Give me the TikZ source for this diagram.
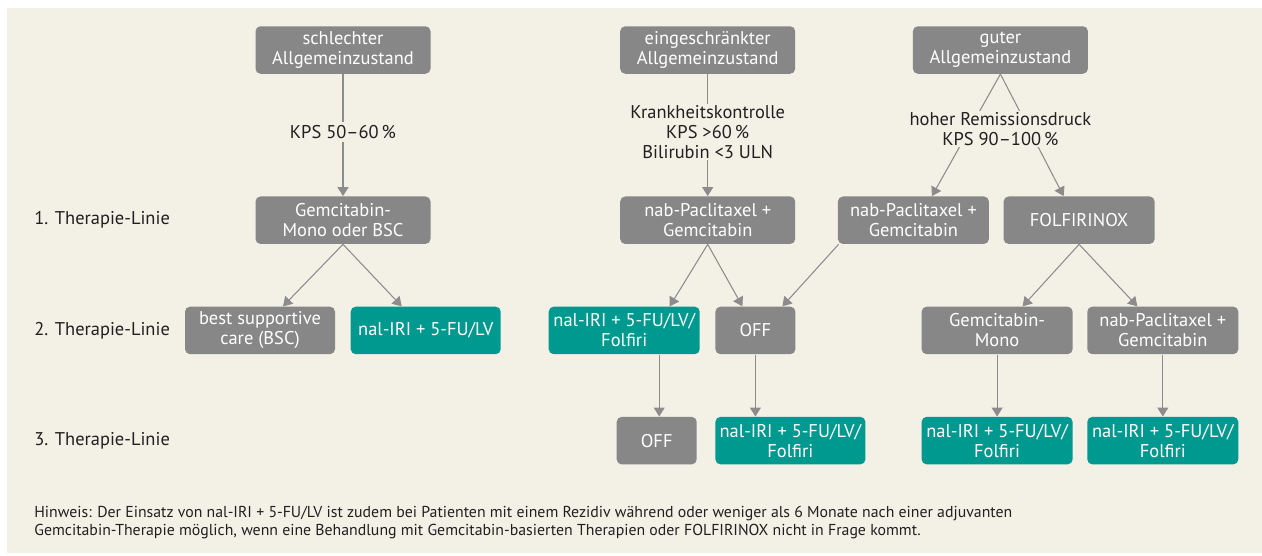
\documentclass[tikz,border=0pt]{standalone}
\usepackage{fontspec}
\setmainfont{PT Sans}
\usepackage{tikz}
\usetikzlibrary{arrows.meta}
\usetikzlibrary{positioning}
\usepackage{xcolor}
\definecolor{bgbeige}{HTML}{F3F0E6}
\definecolor{boxgray}{HTML}{878787}
\definecolor{boxteal}{HTML}{00998F}
\definecolor{linegray}{HTML}{8C8C8C}
\definecolor{txtdark}{HTML}{231F20}

\begin{document}
\begin{tikzpicture}
		\tikzstyle{block} = [rectangle, fill=boxgray, text=white, align=center, 
		rounded corners=0.1cm, minimum width=3.5cm, minimum height=0.95cm, inner sep=0pt, font=\fontsize{10.5}{11.4}\selectfont]
		\tikzstyle{tblock} = [block, fill=boxteal]
		\tikzstyle{noblock} = [rectangle, fill=bgbeige, text=txtdark, align=center, 
		inner sep=0.06cm, font=\fontsize{10.5}{11.4}\selectfont]
		\tikzstyle{rowlabel} = [anchor=west, text=txtdark, inner sep=0pt, font=\fontsize{10.5}{11.4}\selectfont]
		\tikzstyle{line} = [draw=linegray, line width=0.6pt, -{Triangle[length=0.18cm, width=0.22cm]}]

		% frame
		\useasboundingbox (0,0) rectangle (25.24,-11.1);
		\fill [bgbeige] (0.14,-0.16) rectangle (25.24,-11.06);
		\coordinate (lft) at (0.68,0);

		% Allgemeinzustand
		\node [block] (s1) at (6.86,-1.0) {schlechter\\Allgemeinzustand};
		\node [block, right=3.78cm of s1] (s2) {eingeschränkter\\Allgemeinzustand};
		\node [block, right=2.34cm of s2] (s3) {guter\\Allgemeinzustand};

		% 1. Linie
		\node [block, below=2.44cm of s1] (t1a) {Gemcitabin-\\Mono oder BSC};
		\node [block, below=2.44cm of s2] (t1b) {nab-Paclitaxel +\\Gemcitabin};
		\node [block, right=0.84cm of t1b, minimum width=3.02cm] (t1c) {nab-Paclitaxel +\\Gemcitabin};
		\node [block, right=0.28cm of t1c, minimum width=3.02cm] (t1d) {FOLFIRINOX};

		% 2. Linie
		\node [block, below=1.24cm of t1a, xshift=-1.66cm, minimum width=3.0cm] (t2a) {best supportive\\care (BSC)};
		\node [tblock, right=0.3cm of t2a, minimum width=3.0cm] (t2b) {nal-IRI + 5-FU/LV};
		\node [tblock, below=1.24cm of t1b, xshift=-1.67cm, minimum width=3.02cm] (t2c) {nal-IRI + 5-FU/LV/\\Folfiri};
		\node [block, right=0.3cm of t2c, minimum width=1.6cm] (t2d) {OFF};
		\node [block, below=1.24cm of t1d, xshift=-1.64cm, minimum width=3.02cm] (t2e) {Gemcitabin-\\Mono};
		\node [block, right=0.28cm of t2e, minimum width=3.02cm] (t2f) {nab-Paclitaxel +\\Gemcitabin};

		% 3. Linie
		\node [block, below=1.24cm of t2c, xshift=0.65cm, minimum width=1.6cm] (t3a) {OFF};
		\node [tblock, below=1.24cm of t2d, xshift=0.7cm, minimum width=3.0cm] (t3b) {nal-IRI + 5-FU/LV/\\Folfiri};
		\node [tblock, below=1.24cm of t2e, minimum width=3.02cm] (t3c) {nal-IRI + 5-FU/LV/\\Folfiri};
		\node [tblock, below=1.24cm of t2f, minimum width=3.02cm] (t3d) {nal-IRI + 5-FU/LV/\\Folfiri};

		% row labels
		\node [rowlabel] (r1) at (lft |- t1a) {1. Therapie-Linie};
		\node [rowlabel] (r2) at (lft |- t2a) {2. Therapie-Linie};
		\node [rowlabel] (r3) at (lft |- t3a) {3. Therapie-Linie};

		% arrows
		\draw [line] (s1.south) -- (t1a.north) node [noblock, pos=0.475] (c1) {KPS 50–60\,\%};
		\draw [line] (s2.south) -- (t1b.north) node [noblock, pos=0.475, inner sep=0.03cm] (c2) {Krankheitskontrolle\\KPS >60\,\%\\Bilirubin <3 ULN};
		\draw [line] (s3.south) -- ([xshift=0.37cm]t1c.north);
		\draw [line] (s3.south) -- ([xshift=-0.31cm]t1d.north);
		\node [noblock, below=0.74cm of s3.south, inner sep=0.02cm] (c3) {hoher Remissionsdruck\\KPS 90–100\,\%};
		%
		\draw [line] (t1a.south) -- ([xshift=0.46cm]t2a.north);
		\draw [line] (t1a.south) -- ([xshift=-0.48cm]t2b.north);
		\draw [line] (t1b.south) -- ([xshift=0.91cm]t2c.north);
		\draw [line] (t1b.south) -- ([xshift=-0.26cm]t2d.north);
		\draw [line] ([xshift=0.02cm]t1c.south west) -- ([xshift=0.54cm]t2d.north);
		\draw [line] (t1d.south) -- ([xshift=0.51cm]t2e.north);
		\draw [line] (t1d.south) -- ([xshift=-0.51cm]t2f.north);
		%
		\draw [line] ([xshift=0.05cm]t3a.north |- t2c.south) -- ([xshift=0.05cm]t3a.north);
		\draw [line] (t2d.south) -- (t2d.south |- t3b.north);
		\draw [line] (t2e.south) -- (t3c.north);
		\draw [line] (t2f.south) -- (t3d.north);

		% Hinweis
		\node [anchor=north west, align=left, text=txtdark, inner sep=0pt, font=\fontsize{9}{10.3}\selectfont] (hint) at (0.68,-10.12) {Hinweis: Der Einsatz von nal-IRI + 5-FU/LV ist zudem bei Patienten mit einem Rezidiv während oder weniger als 6 Monate nach einer adjuvanten\\Gemcitabin-Therapie möglich, wenn eine Behandlung mit Gemcitabin-basierten Therapien oder FOLFIRINOX nicht in Frage kommt.};

	\end{tikzpicture}
\end{document}
